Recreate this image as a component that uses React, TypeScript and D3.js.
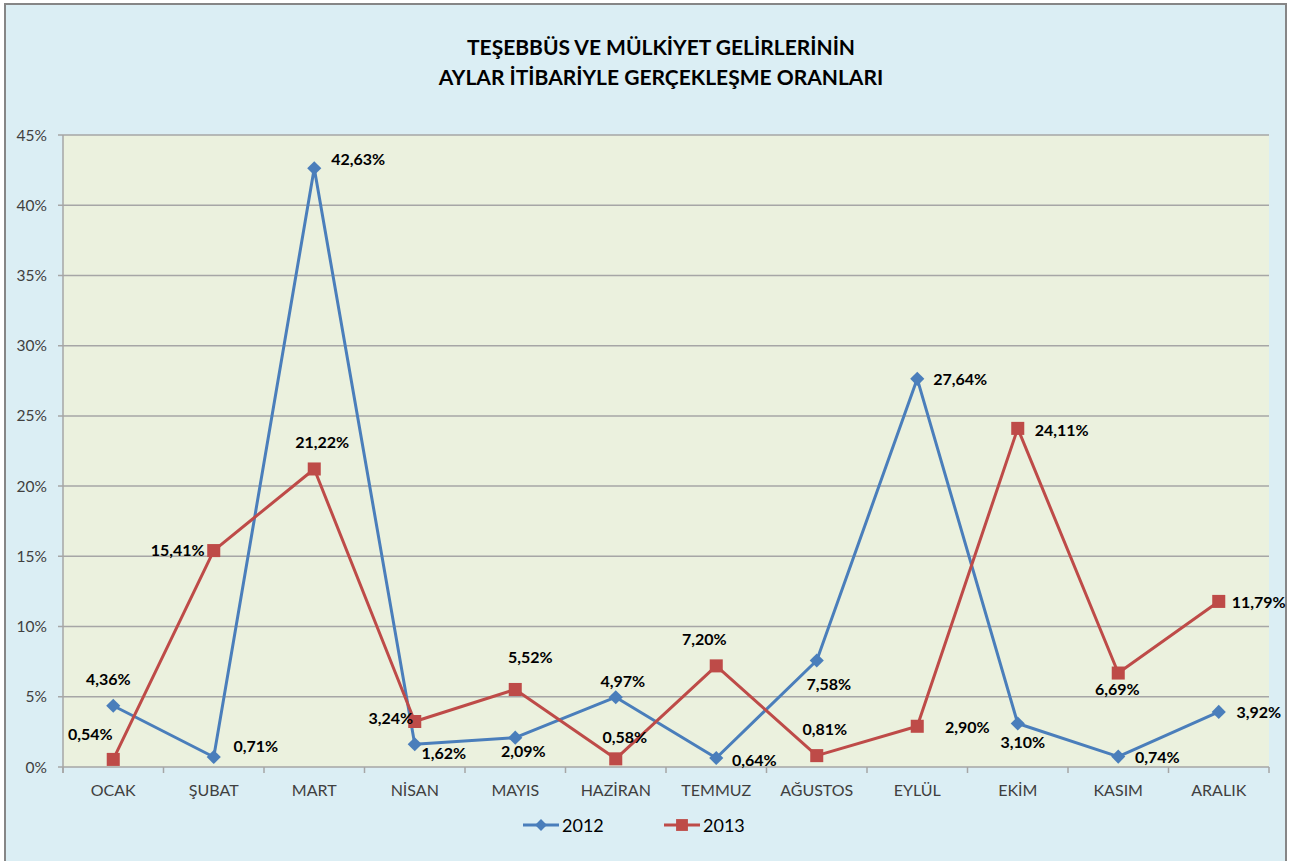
import React, { useEffect, useRef } from "react";
import * as d3 from "d3";

// Chart data
const months = [
  "OCAK", "ŞUBAT", "MART", "NİSAN", "MAYIS", "HAZİRAN",
  "TEMMUZ", "AĞUSTOS", "EYLÜL", "EKİM", "KASIM", "ARALIK",
];
const values2012 = [4.36, 0.71, 42.63, 1.62, 2.09, 4.97, 0.64, 7.58, 27.64, 3.1, 0.74, 3.92];
const values2013 = [0.54, 15.41, 21.22, 3.24, 5.52, 0.58, 7.2, 0.81, 2.9, 24.11, 6.69, 11.79];
const yTicks = [0, 5, 10, 15, 20, 25, 30, 35, 40, 45];
const titleLines = [
  "TEŞEBBÜS VE MÜLKİYET GELİRLERİNİN",
  "AYLAR İTİBARİYLE GERÇEKLEŞME ORANLARI",
];

// Manual label offsets (dx, dy from the point, text centred), like the hand-placed Excel labels
const labelOffsets2012: [number, number][] = [
  [-5, -26], [42, -11], [44, -9], [29, 9], [8, 14], [7, -16],
  [38, 2], [12, 24], [43, 1], [5, 19], [39, 1], [40, 1],
];
const labelOffsets2013: [number, number][] = [
  [-23, -25], [-36, 0], [8, -26], [-24, -3], [15, -32], [9, -21],
  [-12, -26], [8, -26], [50, 1], [44, 2], [-1, 16], [40, 1],
];

const COLOR_2012 = "#4A7EBB";
const COLOR_2013 = "#BE4B48";
const FONT = "Lato, 'Open Sans', sans-serif";

// diamond = square turned by 45 degrees
const diamond = (size: number) => d3.symbol().type(d3.symbolSquare).size(size)();

const App: React.FC = () => {
  const svgRef = useRef<SVGSVGElement | null>(null);

  useEffect(() => {
    if (!svgRef.current) return;
    const svg = d3.select(svgRef.current);
    svg.selectAll("*").remove();

    const width = 1296;
    const height = 861;
    const margin = { top: 135, right: 27, bottom: 94, left: 63 };

    // outer chart area
    svg.append("rect")
      .attr("x", 5).attr("y", 4)
      .attr("width", 1281).attr("height", 900)
      .attr("fill", "#DBEEF4")
      .attr("stroke", "#868686")
      .attr("stroke-width", 2);

    // title
    svg.append("g")
      .selectAll("text")
      .data(titleLines)
      .enter()
      .append("text")
      .attr("x", 661)
      .attr("y", (_, i) => 55 + i * 30)
      .attr("text-anchor", "middle")
      .attr("font-family", FONT)
      .attr("font-weight", "bold")
      .attr("font-size", 21)
      .attr("fill", "#000")
      .text(d => d);

    const xScale = d3.scaleBand()
      .domain(months)
      .range([margin.left, width - margin.right]);

    const yScale = d3.scaleLinear()
      .domain([0, 45])
      .range([height - margin.bottom, margin.top]);

    const x0 = margin.left;
    const x1 = width - margin.right;
    const yBottom = height - margin.bottom;

    // plot area
    svg.append("rect")
      .attr("x", x0).attr("y", margin.top)
      .attr("width", x1 - x0).attr("height", yBottom - margin.top)
      .attr("fill", "#EBF1DE");

    // gridlines
    svg.append("g")
      .selectAll("line")
      .data(yTicks)
      .enter()
      .append("line")
      .attr("x1", x0 - 5).attr("x2", x1)
      .attr("y1", d => yScale(d)).attr("y2", d => yScale(d))
      .attr("stroke", "#A6A6A6")
      .attr("stroke-width", 1.5);

    // y axis line
    svg.append("line")
      .attr("x1", x0).attr("x2", x0)
      .attr("y1", margin.top).attr("y2", yBottom + 6)
      .attr("stroke", "#A6A6A6").attr("stroke-width", 1.5);

    // x axis ticks at band boundaries
    const boundaries = months.map(m => xScale(m)!).concat([x1]);
    svg.append("g")
      .selectAll("line")
      .data(boundaries)
      .enter()
      .append("line")
      .attr("x1", d => d).attr("x2", d => d)
      .attr("y1", yBottom).attr("y2", yBottom + 6)
      .attr("stroke", "#A6A6A6").attr("stroke-width", 1.5);

    // y tick labels
    svg.append("g")
      .selectAll("text")
      .data(yTicks)
      .enter()
      .append("text")
      .attr("x", 47)
      .attr("y", d => yScale(d) + 5.5)
      .attr("text-anchor", "end")
      .attr("font-family", FONT)
      .attr("font-size", 15.5)
      .attr("fill", "#404040")
      .text(d => `${d}%`);

    // x tick labels
    svg.append("g")
      .selectAll("text")
      .data(months)
      .enter()
      .append("text")
      .attr("x", d => xScale(d)! + xScale.bandwidth() / 2)
      .attr("y", yBottom + 29)
      .attr("text-anchor", "middle")
      .attr("font-family", FONT)
      .attr("font-size", 16)
      .attr("fill", "#404040")
      .text(d => d);

    const cx = (i: number) => xScale(months[i])! + xScale.bandwidth() / 2;
    const line = d3.line<number>()
      .x((_, i) => cx(i))
      .y(d => yScale(d));

    const series = [
      { values: values2012, color: COLOR_2012, rotate: 45, size: 100, offsets: labelOffsets2012 },
      { values: values2013, color: COLOR_2013, rotate: 0, size: 170, offsets: labelOffsets2013 },
    ];

    series.forEach(s => {
      svg.append("path")
        .datum(s.values)
        .attr("d", line)
        .attr("fill", "none")
        .attr("stroke", s.color)
        .attr("stroke-width", 3)
        .attr("stroke-linejoin", "round");
    });

    series.forEach(s => {
      svg.append("g")
        .selectAll("path")
        .data(s.values)
        .enter()
        .append("path")
        .attr("transform", (d, i) => `translate(${cx(i)},${yScale(d)}) rotate(${s.rotate})`)
        .attr("d", diamond(s.size))
        .attr("fill", s.color);
    });

    series.forEach(s => {
      svg.append("g")
        .selectAll("text")
        .data(s.values)
        .enter()
        .append("text")
        .attr("x", (_, i) => cx(i) + s.offsets[i][0])
        .attr("y", (d, i) => yScale(d) + s.offsets[i][1] + 5.5)
        .attr("text-anchor", "middle")
        .attr("font-family", FONT)
        .attr("font-weight", "bold")
        .attr("font-size", 16)
        .attr("fill", "#000")
        .text(d => `${d.toFixed(2).replace(".", ",")}%`);
    });

    // legend
    const legend = svg.append("g").attr("transform", "translate(523, 825)");
    const legendItems = [
      { label: "2012", color: COLOR_2012, rotate: 45, size: 70 },
      { label: "2013", color: COLOR_2013, rotate: 0, size: 140 },
    ];
    legendItems.forEach((item, i) => {
      const g = legend.append("g").attr("transform", `translate(${i * 141}, 0)`);
      g.append("line")
        .attr("x1", 0).attr("x2", 36)
        .attr("stroke", item.color).attr("stroke-width", 3);
      g.append("path")
        .attr("transform", `translate(18,0) rotate(${item.rotate})`)
        .attr("d", diamond(item.size))
        .attr("fill", item.color);
      g.append("text")
        .attr("x", 39).attr("y", 7)
        .attr("font-family", FONT)
        .attr("font-size", 18)
        .attr("fill", "#000")
        .text(item.label);
    });
  }, []);

  return (
    <svg
      ref={svgRef}
      width={1296}
      height={861}
      style={{ position: "absolute", left: 0, top: 0 }}
    ></svg>
  );
};

export default App;
